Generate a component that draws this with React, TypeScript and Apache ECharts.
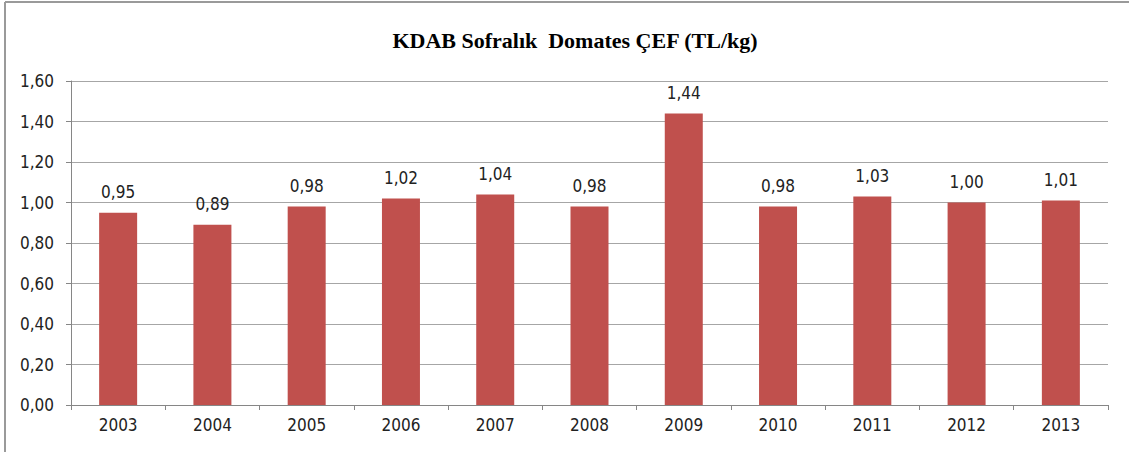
import React, { useEffect, useRef } from "react";
import * as echarts from "echarts";

const titleText = "KDAB Sofralık  Domates ÇEF (TL/kg)";
const years = ["2003", "2004", "2005", "2006", "2007", "2008", "2009", "2010", "2011", "2012", "2013"];
const prices = [0.95, 0.89, 0.98, 1.02, 1.04, 0.98, 1.44, 0.98, 1.03, 1.0, 1.01];

const fmt = (v: number) => v.toFixed(2).replace(".", ",");

export default function App() {
  const ref = useRef<HTMLDivElement>(null);
  useEffect(() => {
    if (!ref.current) return;
    const chart = echarts.init(ref.current, null, { renderer: "svg" });
    const labelFont = "'DejaVu Sans Condensed', 'DejaVu Sans', Tahoma, sans-serif";
    chart.setOption({
      animation: false,
      backgroundColor: "#ffffff",
      title: {
        text: titleText,
        left: 570,
        textAlign: "center",
        top: 24,
        textStyle: {
          fontFamily: "'Liberation Serif', 'Times New Roman', serif",
          fontWeight: "bold",
          fontSize: 22,
          color: "#000000",
        },
      },
      graphic: [
        { type: "line", shape: { x1: 5, y1: 2, x2: 1129, y2: 2 }, style: { stroke: "#9a9a9a", lineWidth: 2 } },
        { type: "line", shape: { x1: 5, y1: 2, x2: 5, y2: 452 }, style: { stroke: "#9a9a9a", lineWidth: 2 } },
      ],
      grid: { left: 71, right: 21, top: 81, bottom: 47 },
      xAxis: {
        type: "category",
        data: years,
        axisLine: { lineStyle: { color: "#868686", width: 1 } },
        axisTick: { show: true, alignWithLabel: false, length: 5, lineStyle: { color: "#868686" } },
        axisLabel: { color: "#222", fontFamily: labelFont, fontSize: 17, margin: 11 },
      },
      yAxis: {
        type: "value",
        min: 0,
        max: 1.6,
        interval: 0.2,
        axisLine: { show: true, lineStyle: { color: "#868686" } },
        axisTick: { show: true, length: 5, lineStyle: { color: "#868686" } },
        splitLine: { lineStyle: { color: "#a6a6a6", width: 1 } },
        axisLabel: { color: "#222", fontFamily: labelFont, fontSize: 17, margin: 17, formatter: (v: number) => fmt(v) },
      },
      series: [
        {
          type: "bar",
          data: prices,
          barWidth: 38,
          itemStyle: { color: "#C0504D" },
          label: {
            show: true,
            position: "top",
            distance: 12,
            color: "#222",
            fontFamily: labelFont,
            fontSize: 17,
            formatter: (p: any) => fmt(p.value),
          },
        },
      ],
    });
    return () => chart.dispose();
  }, []);
  return <div ref={ref} style={{ position: "fixed", left: 0, top: 0, width: 1129, height: 452 }} />;
}
